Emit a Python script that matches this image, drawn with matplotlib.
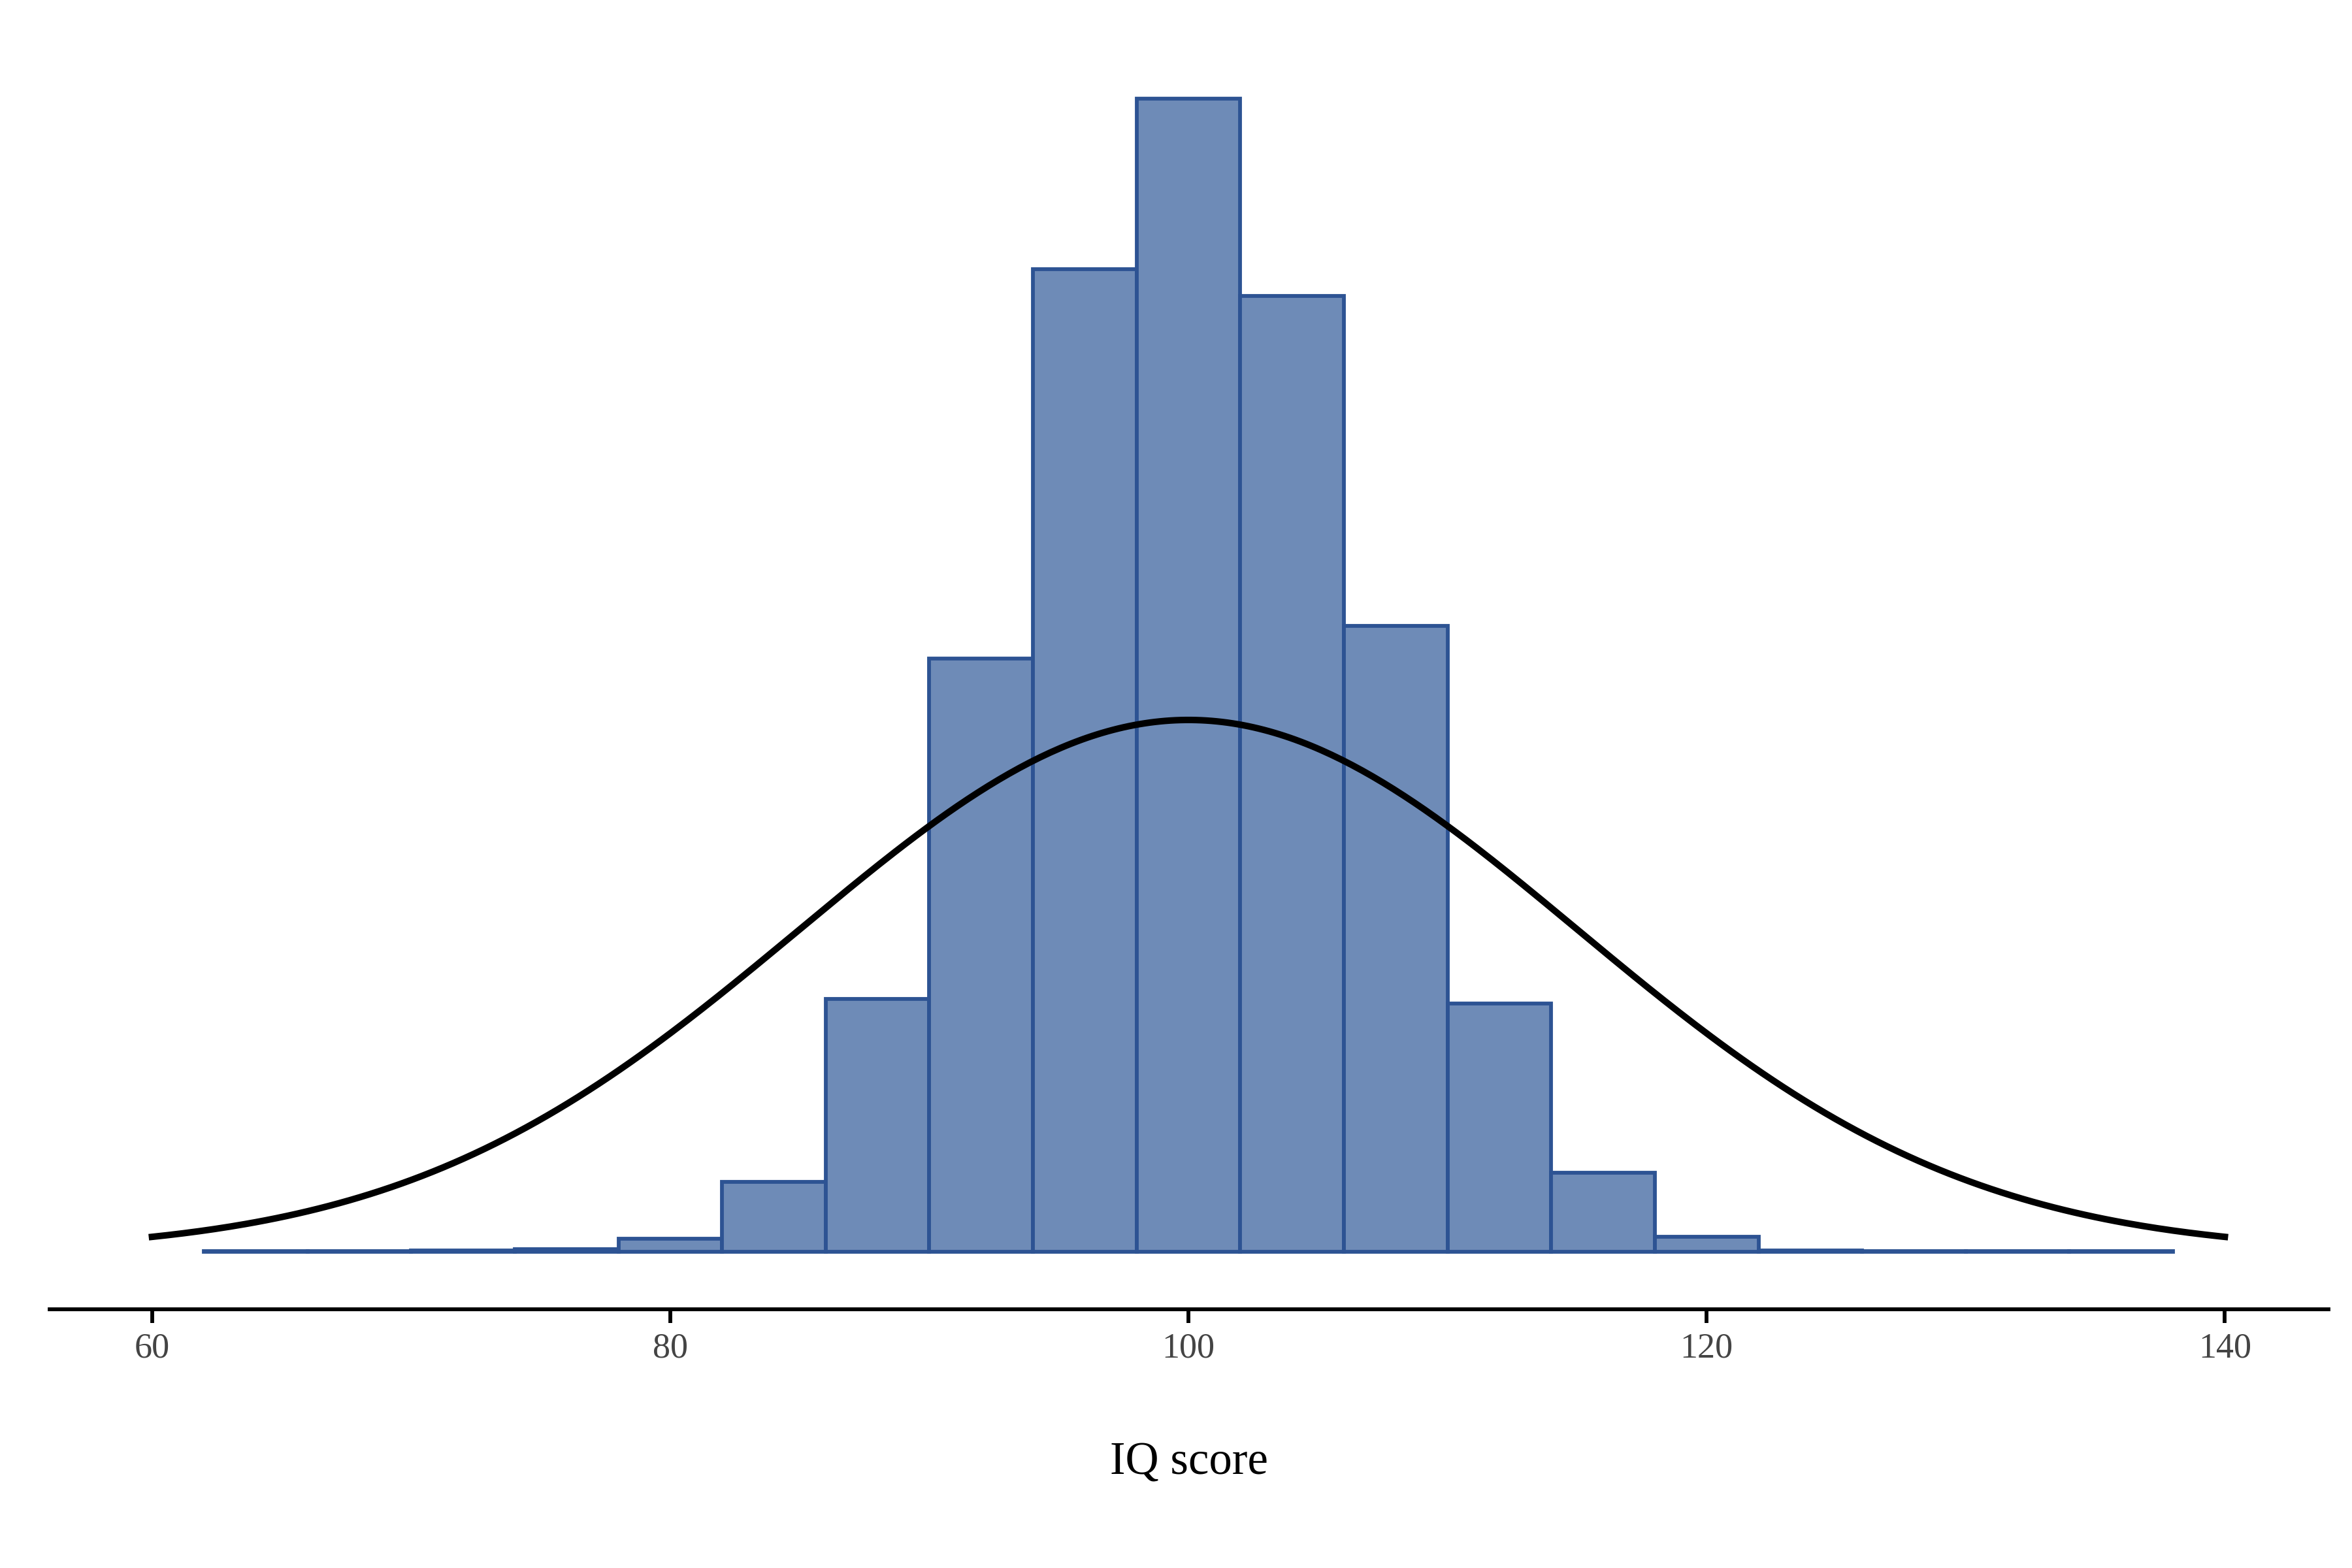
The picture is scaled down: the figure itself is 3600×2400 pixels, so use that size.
import matplotlib.pyplot as plt
import numpy as np

# histogram bins (IQ score) and relative counts
bin_edges = np.arange(62, 139, 4)
counts = [0.5, 0.5, 1, 2, 9, 47, 169, 396, 656, 770, 638, 418, 166, 53, 10, 1, 0.5, 0.5, 0.5]

mu, sigma = 100, 15

counts = np.array(counts, dtype=float)
width = np.diff(bin_edges)
density = counts / (counts.sum() * width)

plt.rcParams['font.family'] = ['Liberation Serif', 'DejaVu Serif']

fig = plt.figure(figsize=(12, 8), dpi=300)
ax = fig.add_axes([0.021, 0.165, 0.969, 0.811])

ax.bar(bin_edges[:-1], density, width=width, align='edge',
       color='#6e8bb7', edgecolor='#2d5393', linewidth=1.4)

x = np.linspace(60, 140, 400)
pdf = np.exp(-0.5 * ((x - mu) / sigma) ** 2) / (sigma * np.sqrt(2 * np.pi))
ax.plot(x, pdf, color='black', linewidth=2.4)

ax.set_xlim(56.04, 144.0)
ax.set_ylim(-0.00286, 0.0607)
for s in ['left', 'right', 'top']:
    ax.spines[s].set_visible(False)
ax.spines['bottom'].set_linewidth(1.4)
ax.set_yticks([])
ax.set_xticks([60, 80, 100, 120, 140])
ax.tick_params(axis='x', labelsize=13, labelcolor='#444444', width=1.4, length=5)
ax.set_xlabel('IQ score', fontsize=17, labelpad=28)

fig.savefig('out.png', dpi=300)
